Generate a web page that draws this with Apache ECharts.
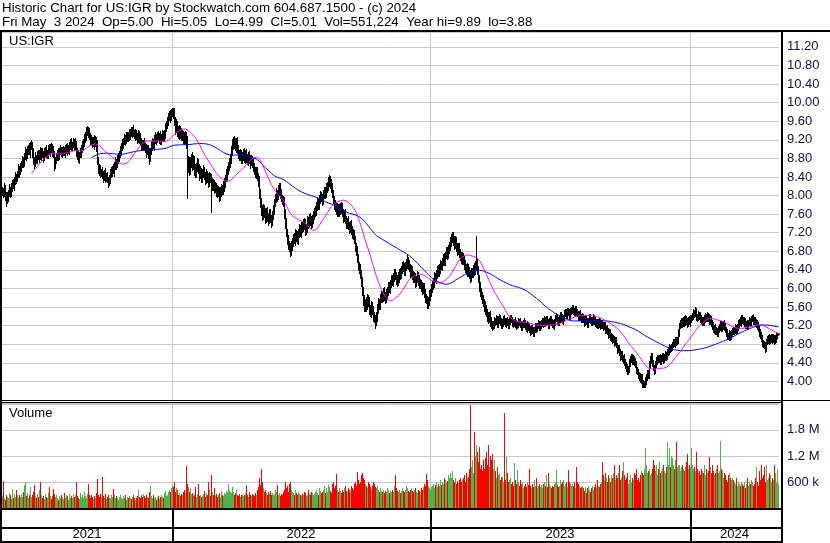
<!DOCTYPE html>
<html>
<head>
<meta charset="utf-8">
<script src="https://cdn.jsdelivr.net/npm/echarts@6/dist/echarts.min.js"></script>
<style>
  html, body { margin: 0; padding: 0; background: #fff; }
  #chart { width: 830px; height: 543px; }
</style>
</head>
<body>
<div id="chart"></div>
<script>
// ---- Daily closing prices (US:IGR), one value per trading session ----
const closes = [
  // 2021
  8.10,8.05,8.15,8.02,7.92,7.98,8.05,8.12,8.08,8.18,
  8.25,8.22,8.33,8.40,8.38,8.48,8.55,8.52,8.62,8.68,
  8.75,8.72,8.85,8.92,8.88,8.98,9.02,8.95,9.08,9.10,
  8.92,8.75,8.70,8.82,8.78,8.88,8.85,8.92,8.86,8.95,
  8.90,8.84,8.93,8.97,8.88,8.92,9.00,8.95,9.05,9.02,
  8.96,8.90,8.68,8.75,8.85,8.92,8.88,8.95,8.98,8.92,
  8.96,9.00,8.94,8.98,9.03,8.97,9.02,9.08,9.12,9.06,
  9.10,9.14,9.08,9.12,8.95,8.85,8.80,8.88,8.92,9.00,
  9.08,9.15,9.22,9.30,9.38,9.42,9.35,9.28,9.22,9.18,
  9.15,9.20,9.12,9.18,9.05,8.75,8.60,8.55,8.48,8.52,
  8.45,8.40,8.48,8.38,8.42,8.35,8.30,8.36,8.45,8.52,
  8.58,8.55,8.65,8.72,8.68,8.78,8.85,8.90,8.96,9.05,
  9.12,9.18,9.22,9.20,9.26,9.30,9.25,9.32,9.38,9.35,
  9.40,9.36,9.30,9.34,9.28,9.22,9.30,9.25,9.18,9.10,
  9.05,9.12,9.08,9.00,8.95,9.02,8.90,8.82,8.95,9.08,
  9.15,9.10,9.20,9.26,9.22,9.30,9.25,9.28,9.20,9.24,
  9.32,9.28,9.35,9.45,9.52,9.60,9.68,9.75,9.70,9.80,
  // 2022
  9.85,9.78,9.60,9.45,9.52,9.38,9.30,9.42,9.35,9.28,
  9.32,9.25,9.20,9.30,9.15,8.60,8.75,8.55,8.70,8.82,
  8.65,8.78,8.55,8.48,8.62,8.70,8.58,8.45,8.52,8.40,
  8.48,8.55,8.42,8.35,8.45,8.38,8.30,8.42,8.36,8.20,
  8.28,8.22,8.15,8.20,8.10,8.05,8.12,8.00,8.08,8.15,
  8.12,8.20,8.28,8.38,8.45,8.55,8.62,8.72,8.80,8.95,
  9.10,9.20,9.12,9.05,9.15,9.00,8.92,8.85,8.90,8.80,
  8.85,8.92,8.80,8.88,8.82,8.75,8.85,8.80,8.72,8.78,
  8.70,8.62,8.55,8.48,8.52,8.40,8.30,8.05,7.85,7.70,
  7.58,7.72,7.62,7.50,7.65,7.55,7.48,7.62,7.52,7.45,
  7.58,7.70,7.85,7.95,8.05,8.00,8.10,8.18,8.05,7.95,
  7.90,7.85,7.62,7.40,7.20,7.05,6.95,6.88,6.82,6.92,
  7.00,7.10,7.05,7.18,7.12,7.05,7.20,7.28,7.22,7.35,
  7.30,7.42,7.38,7.25,7.32,7.45,7.40,7.52,7.48,7.40,
  7.50,7.58,7.62,7.70,7.78,7.85,7.80,7.92,8.00,7.95,
  7.90,8.02,8.10,8.05,8.15,8.22,8.30,8.35,8.25,8.18,
  8.05,7.90,7.82,7.75,7.68,7.72,7.65,7.70,7.78,7.72,
  7.62,7.55,7.60,7.48,7.40,7.45,7.35,7.30,7.38,7.25,
  7.20,7.15,7.05,6.90,6.80,6.65,6.50,6.42,6.30,6.15,
  5.95,5.75,5.60,5.70,5.62,5.80,5.72,5.55,5.48,5.62,
  5.55,5.40,5.35,5.30,5.42,5.55,5.70,5.65,5.78,5.85,
  5.80,5.92,5.85,5.78,5.90,5.95,6.05,6.00,6.12,6.20,
  6.15,6.25,6.32,6.28,6.20,6.15,6.25,6.35,6.30,6.42,
  6.50,6.45,6.38,6.48,6.55,6.60,6.52,6.45,6.35,6.40,
  6.30,6.22,6.25,6.15,6.20,6.28,6.18,6.10,6.12,6.05,
  5.98,6.02,5.92,5.80,5.75,5.68,5.72,5.85,5.92,6.00,
  // 2023
  6.08,6.15,6.25,6.20,6.32,6.40,6.35,6.45,6.52,6.48,
  6.58,6.65,6.60,6.72,6.80,6.75,6.85,6.92,7.00,7.08,
  7.12,7.05,6.95,7.02,6.90,6.82,6.88,6.78,6.70,6.62,
  6.70,6.60,6.52,6.45,6.38,6.45,6.35,6.30,6.25,6.32,
  6.35,6.42,6.38,6.50,6.55,6.40,6.22,6.05,5.92,5.85,
  5.78,5.70,5.62,5.55,5.48,5.40,5.35,5.42,5.30,5.25,
  5.18,5.22,5.30,5.28,5.35,5.25,5.32,5.38,5.30,5.22,
  5.28,5.35,5.30,5.25,5.32,5.28,5.22,5.30,5.36,5.33,
  5.28,5.24,5.30,5.26,5.20,5.25,5.30,5.28,5.22,5.18,
  5.22,5.28,5.25,5.20,5.15,5.22,5.18,5.12,5.08,5.15,
  5.10,5.05,5.12,5.18,5.15,5.20,5.25,5.18,5.22,5.28,
  5.30,5.25,5.32,5.28,5.35,5.30,5.22,5.28,5.34,5.30,
  5.25,5.20,5.28,5.35,5.40,5.32,5.28,5.36,5.42,5.38,
  5.32,5.38,5.45,5.50,5.44,5.52,5.48,5.42,5.50,5.55,
  5.58,5.52,5.48,5.55,5.50,5.45,5.40,5.46,5.38,5.35,
  5.40,5.32,5.28,5.35,5.30,5.25,5.32,5.38,5.34,5.28,
  5.32,5.38,5.30,5.25,5.28,5.22,5.30,5.26,5.20,5.25,
  5.22,5.18,5.20,5.12,5.15,5.08,5.02,5.05,4.95,4.98,
  4.90,4.92,4.85,4.88,4.78,4.70,4.72,4.62,4.55,4.58,
  4.48,4.52,4.42,4.35,4.30,4.22,4.28,4.40,4.48,4.52,
  4.45,4.50,4.42,4.38,4.25,4.20,4.15,4.10,4.05,4.08,
  3.98,3.92,3.95,4.02,4.10,4.18,4.15,4.35,4.48,4.55,
  4.40,4.30,4.25,4.35,4.45,4.50,4.48,4.52,4.45,4.50,
  4.55,4.48,4.52,4.58,4.55,4.62,4.68,4.72,4.70,4.75,
  4.80,4.85,4.82,4.88,4.85,4.90,5.05,5.20,5.25,5.30,
  5.25,5.32,5.28,5.35,5.30,5.26,5.32,5.28,5.35,5.38,
  // 2024
  5.42,5.48,5.45,5.52,5.40,5.38,5.45,5.42,5.35,5.30,
  5.32,5.28,5.35,5.40,5.36,5.42,5.38,5.30,5.35,5.28,
  5.20,5.12,5.15,5.08,5.10,5.05,5.12,5.18,5.22,5.15,
  5.20,5.25,5.18,5.12,5.05,5.00,4.98,5.02,4.96,5.05,
  5.10,5.08,5.12,5.15,5.10,5.18,5.25,5.30,5.28,5.35,
  5.32,5.28,5.30,5.22,5.25,5.20,5.26,5.30,5.28,5.35,
  5.38,5.32,5.30,5.25,5.28,5.20,5.15,5.05,5.00,4.92,
  4.85,4.80,4.78,4.72,4.85,4.90,4.95,4.88,4.92,4.95,
  4.90,4.95,4.88,4.92,4.98,5.00,5.01
];

// Cents the session traded above the span of prior close and close
const wickHi = [
  // 2021
  9,6,11,7,6,10,8,12,6,9, 8,11,6,10,7,5,12,8,9,6, 10,7,6,12,8,9,6,11,7,9, 6,10,8,11,5,7,9,6,12,8,
  7,6,10,8,11,6,8,12,6,9, 8,11,6,9,7,6,10,8,11,6, 9,7,5,11,8,10,6,7,9,12, 6,9,8,11,6,7,12,6,10,8,
  9,7,11,6,10,8,6,11,7,9, 8,6,10,11,7,14,9,8,11,6, 10,8,6,11,7,9,6,8,12,9, 6,9,8,11,6,10,7,6,11,8,
  9,6,11,8,10,6,7,12,6,9, 8,11,6,10,7,6,11,8,9,6, 9,8,11,6,10,7,6,12,8,9, 8,6,10,11,6,7,9,6,12,8,
  9,8,6,11,8,9,10,8,9,7,
  // 2022
  4,4,10,9,12,8,11,9,7,10, 9,8,11,9,7,13,10,9,12,8, 11,9,7,12,9,10,8,9,11,7, 9,11,7,9,12,8,10,9,7,11,
  9,7,11,9,8,12,9,7,10,9, 8,11,9,7,12,9,10,8,9,11, 11,7,9,12,8,10,9,7,11,9, 9,8,11,9,12,7,9,10,8,9,
  8,11,9,7,10,9,8,12,9,10, 10,9,7,12,9,11,8,9,10,7, 9,10,8,9,11,7,12,9,8,10, 7,9,11,8,12,9,10,8,9,11,
  9,8,10,9,7,12,9,11,8,9, 10,8,9,12,7,11,9,8,10,9, 8,9,11,7,9,12,8,10,9,7, 9,11,8,9,12,7,10,9,8,11,
  9,7,10,9,8,11,9,12,7,9, 11,9,8,10,9,7,12,9,8,10, 9,8,10,9,7,11,9,8,10,9, 10,9,12,8,11,9,7,10,9,12,
  9,7,10,9,8,11,9,7,10,9, 8,9,11,7,9,8,10,9,7,9, 9,8,10,9,7,9,11,8,9,7, 7,10,9,8,9,11,7,9,8,10,
  9,8,10,9,7,9,8,11,9,7, 8,9,10,7,9,8,9,11,7,9,
  // 2023
  9,8,10,9,7,9,11,8,9,7, 8,9,11,7,9,10,8,9,11,9, 10,9,7,11,9,8,9,10,7,9, 9,7,10,9,8,9,7,11,9,12,
  10,9,12,9,57,10,9,8,10,9, 8,9,7,10,9,8,9,7,9,8, 6,7,9,6,7,5,8,7,6,7, 7,6,8,7,5,7,6,8,7,6,
  6,7,5,8,7,6,7,5,8,7, 7,5,8,7,6,7,5,8,7,6, 6,7,5,8,7,6,7,5,8,5, 7,6,8,7,5,6,5,8,7,6,
  5,7,6,8,7,5,7,6,8,7, 7,6,8,5,6,7,5,8,7,6, 6,7,5,8,7,6,7,5,8,7, 7,5,8,7,6,7,5,8,7,5,
  6,7,5,8,7,6,5,6,8,7, 7,6,8,7,5,7,6,8,7,6, 5,7,6,8,7,5,7,6,8,7, 7,5,8,7,6,7,5,8,7,6,
  6,7,5,8,7,6,7,5,8,7, 7,5,6,7,5,7,6,8,7,6, 6,7,5,8,7,6,7,5,8,7, 7,6,8,7,5,7,6,8,7,6,
  5,7,6,8,7,5,7,6,8,7, 7,6,8,7,5,7,6,8,7,6,
  // 2024
  6,7,5,8,7,6,7,5,8,7, 7,6,8,7,5,7,6,8,7,6, 5,7,6,8,7,5,7,6,8,7, 7,5,8,7,6,7,5,8,7,6,
  6,7,5,8,7,6,7,5,8,7, 7,6,8,7,5,7,6,8,7,6, 5,7,6,8,7,5,7,6,8,7, 7,5,8,7,6,7,5,8,7,6,
  6,7,5,8,7,5,4
];

// Cents the session traded below the span of prior close and close
const wickLo = [
  // 2021
  8,9,6,11,14,7,10,6,11,8, 9,6,11,8,10,6,7,11,6,9, 6,10,8,6,11,7,9,6,12,8, 10,8,11,6,9,8,6,12,7,9,
  6,11,8,10,6,7,11,6,9,8, 11,8,12,9,6,8,11,9,6,7, 8,9,6,11,7,10,6,12,8,9, 9,6,11,8,10,6,7,11,6,10,
  6,10,8,6,11,7,9,6,12,8, 10,8,11,6,9,8,11,10,7,6, 8,11,6,9,7,6,11,8,10,6, 9,6,12,8,10,6,7,11,6,9,
  6,10,8,11,6,9,8,6,11,7, 10,8,6,11,7,9,6,12,8,9, 8,6,10,7,11,6,9,14,7,6, 9,8,11,6,10,7,6,11,8,9,
  6,10,8,11,6,7,9,6,11,8,
  // 2022
  9,11,8,12,9,10,7,9,11,8, 8,11,9,7,12,65,9,10,8,9, 9,7,11,9,8,10,9,12,7,11, 11,9,7,10,9,8,12,9,7,55,
  7,11,9,8,10,9,7,12,9,10, 9,8,10,9,7,11,9,8,10,9, 8,10,9,7,11,9,12,8,9,10, 10,9,7,11,9,8,10,9,12,7,
  9,10,8,9,11,7,9,10,9,11, 11,8,9,10,7,9,11,8,9,12, 8,9,10,7,9,11,8,9,10,7, 9,8,11,9,7,10,9,8,12,9,
  10,9,8,11,9,7,10,9,8,11, 9,7,11,9,8,10,9,7,11,9, 8,10,9,7,11,9,8,10,9,7, 10,9,8,11,9,7,10,9,8,11,
  9,8,10,9,7,11,9,8,10,9, 7,11,9,8,10,9,7,11,9,8, 11,9,8,10,9,7,11,9,8,10, 9,10,8,9,11,7,9,10,8,9,
  10,9,7,15,9,11,8,9,10,8, 9,8,10,9,7,11,9,8,10,9, 8,10,9,7,11,9,8,10,9,7, 9,7,10,9,8,11,9,7,10,9,
  10,9,8,11,9,7,10,9,8,11, 9,8,10,9,7,11,9,8,10,9,
  // 2023
  8,9,11,7,9,10,8,9,11,7, 9,8,10,9,7,11,9,8,10,9, 7,11,9,8,10,9,7,11,9,8, 9,8,10,9,7,11,9,8,10,9,
  8,10,9,7,11,9,8,10,9,7, 9,8,10,9,7,11,9,8,10,9, 7,6,8,7,5,8,7,6,8,7, 6,8,7,5,8,7,6,8,7,5,
  8,7,5,8,7,6,8,7,5,8, 7,5,8,7,6,8,7,5,8,7, 5,8,7,6,8,7,5,8,7,6, 8,7,5,8,7,6,8,7,5,8,
  7,6,8,7,5,8,7,6,8,7, 6,8,7,5,8,7,6,8,7,5, 8,7,6,8,7,5,8,7,6,8, 7,5,8,7,6,8,7,5,8,7,
  6,8,7,5,8,7,6,8,7,5, 8,7,5,8,7,6,8,7,5,8, 7,6,8,7,5,8,7,6,8,7, 5,8,7,6,8,7,5,8,7,6,
  8,7,6,8,7,5,8,7,6,8, 9,4,4,7,8,6,8,7,5,8, 7,6,8,7,5,8,7,6,8,7, 6,8,7,5,8,7,6,8,7,5,
  8,7,6,8,7,5,8,7,6,8, 7,5,8,7,6,8,7,5,8,7,
  // 2024
  6,8,7,5,8,7,6,8,7,5, 8,7,6,8,7,5,8,7,6,8, 7,5,8,7,6,8,7,5,8,7, 6,8,7,5,8,7,6,8,7,5,
  8,7,6,8,7,5,8,7,6,8, 7,5,8,7,6,8,7,5,8,7, 6,8,7,5,8,7,6,8,7,5, 8,7,6,8,7,5,8,7,6,8,
  7,5,8,6,7,5,1
];

// Daily volume, thousands of shares
const volumes = [
  // 2021
  280,620,240,180,310,260,220,350,290,200, 440,230,320,260,410,290,240,300,260,330,
  250,380,530,600,280,350,240,300,480,260, 300,360,540,280,220,330,260,410,590,300,
  240,280,200,320,260,230,350,480,280,210, 270,440,320,250,300,220,180,280,240,310,
  260,200,350,230,300,270,190,320,240,280, 220,330,260,310,590,280,240,200,350,260,
  300,240,380,270,220,330,550,290,240,310, 260,200,280,240,350,670,300,260,320,250,
  710,280,240,330,200,260,300,240,220,290, 260,430,300,240,280,220,190,260,310,240,
  200,270,230,300,180,250,220,280,240,200, 260,300,220,190,240,280,420,260,230,300,
  250,330,280,220,300,260,240,380,500,280, 240,300,220,260,180,230,280,200,250,310,
  260,220,340,390,280,300,360,420,380,450,
  // 2022
  520,480,600,380,450,420,300,350,280,330, 300,380,420,350,970,560,480,380,450,320,
  350,280,300,480,260,330,550,280,300,250, 280,320,400,260,350,300,600,420,280,760,
  380,300,450,280,330,250,300,350,260,400, 300,280,350,320,400,380,560,420,380,350,
  480,380,300,350,420,300,280,330,260,300, 320,280,300,350,520,300,260,380,300,280,
  330,300,280,350,300,420,480,690,520,900, 600,450,380,420,350,300,380,330,400,300,
  350,300,330,420,380,530,300,350,280,320, 300,380,420,600,450,500,380,550,600,420,
  380,350,300,420,350,300,380,330,300,280, 330,300,380,350,280,300,420,330,300,380,
  350,300,330,380,420,350,300,450,400,350, 380,420,500,350,450,380,520,480,400,350,
  550,600,450,500,780,420,380,450,400,350, 420,380,450,500,400,380,450,420,380,500,
  450,420,550,600,500,820,650,550,600,750, 800,700,650,550,500,450,600,550,480,420,
  500,600,550,480,450,500,420,380,450,400, 380,420,350,400,380,450,420,350,400,380,
  420,380,500,750,450,400,380,420,350,400, 450,400,380,420,500,450,400,380,420,450,
  400,380,420,450,380,350,420,400,380,450, 420,480,550,500,780,650,500,450,420,480,
  // 2023
  500,550,450,520,600,480,550,500,650,520, 600,550,700,650,580,620,750,680,800,700,
  850,650,600,700,550,620,580,650,700,600, 650,700,750,600,800,680,720,900,2380,950,
  1100,800,1750,1200,1450,1300,1050,1400,900,1000, 850,1100,900,1150,1300,1000,1450,950,1200,1100,
  1250,900,1100,850,700,950,750,800,650,710, 710,600,2180,650,1170,800,600,650,700,550,
  600,500,1030,650,550,870,600,500,650,550, 600,450,500,550,480,600,520,900,500,450,
  550,480,650,500,700,450,500,550,480,520, 450,550,600,500,750,480,800,550,500,450,
  500,480,550,600,870,520,480,500,650,550, 600,650,500,550,600,480,880,600,550,500,
  550,500,600,450,950,600,550,500,450,480, 500,450,400,480,350,450,500,420,380,450,
  500,420,480,550,450,650,500,480,550,600, 1060,750,650,800,700,600,750,680,600,750,
  700,800,980,650,750,700,800,980,650,700, 850,1060,750,650,700,800,550,650,750,600,
  700,650,800,750,900,650,700,600,750,850, 800,750,900,1380,1000,800,850,900,750,800,
  900,1100,1000,850,1000,750,900,1050,800,850, 900,1000,850,800,950,1520,1000,1380,950,1200,
  1150,1000,900,1100,1520,950,1000,1000,850,950, 1000,900,850,950,1050,1250,900,1000,950,1380,
  // 2024
  1000,900,950,850,1280,900,800,850,750,900, 850,800,1000,750,900,800,850,1170,950,800,
  1000,850,750,800,900,1000,800,850,1540,900, 850,700,800,750,650,600,750,800,700,650,
  700,650,600,550,700,500,600,550,500,600, 550,500,600,450,550,700,500,600,550,650,
  600,500,550,700,950,600,500,850,650,1000, 700,750,950,600,1000,650,700,800,750,600,
  700,650,980,800,600,900,551.224
];

// Calendar bands along the bottom
const yearLabels = ['2021', '2022', '2023', '2024'];
const yearStarts = [0, 170, 428, 688];

// Moving-average windows (sessions)
const maFast = 30;
const maSlow = 90;

// ---- Derived series ----
const N = closes.length;
const r2 = v => Math.round(v * 100) / 100;
const highs = closes.map((c, i) => r2(Math.max(i ? closes[i - 1] : c, c) + wickHi[i] / 100));
const lows  = closes.map((c, i) => r2(Math.min(i ? closes[i - 1] : c, c) - wickLo[i] / 100));

function movingAverage(values, n) {
  const out = [];
  let sum = 0;
  for (let i = 0; i < values.length; i++) {
    sum += values[i];
    if (i >= n) sum -= values[i - n];
    if (i >= n - 1) out.push([i, sum / n]);
  }
  return out;
}

const last = N - 1;
const f2 = v => v.toFixed(2);
const headLine1 = 'Historic Chart for US:IGR by Stockwatch.com 604.687.1500 - (c) 2024';
const headLine2 = 'Fri May  3 2024  Op=' + f2(closes[last - 1]) +
  '  Hi=' + f2(highs[last]) + '  Lo=' + f2(lows[last]) + '  Cl=' + f2(closes[last]) +
  '  Vol=' + Math.round(volumes[last] * 1000).toLocaleString('en-US') +
  '  Year hi=' + f2(Math.max(...highs)) + '  lo=' + f2(Math.min(...lows));

const FONT = '"Liberation Sans", Arial, sans-serif';
const LABEL_COLOR = '#10104a';
const GRID_GRAY = '#c8c8c8';
const UP_GREEN = '#4db34d';
const DOWN_RED = '#ff0000';
const FLAT_GRAY = '#a8a8a8';

const chart = echarts.init(document.getElementById('chart'), null, { renderer: 'canvas' });

const xCommon = { type: 'value', min: -0.5, max: N - 0.5, show: false };

// vertical year gridlines inside a panel
function yearGridSeries(idx) {
  return {
    type: 'custom', xAxisIndex: idx, yAxisIndex: idx, silent: true, z: 1,
    data: yearStarts.slice(1).map(s => [s - 0.5, 0]),
    renderItem(params, api) {
      const cs = params.coordSys;
      const x = Math.round(api.coord([api.value(0), 0])[0]) + 0.5;
      return { type: 'line', shape: { x1: x, y1: cs.y, x2: x, y2: cs.y + cs.height },
               style: { stroke: GRID_GRAY, lineWidth: 1 } };
    }
  };
}

const option = {
  animation: false,
  backgroundColor: '#ffffff',
  grid: [
    { left: 2, top: 32, width: 777, height: 368, outerBoundsMode: 'none' },
    { left: 2, top: 403, width: 777, height: 105, outerBoundsMode: 'none' },
    { left: 2, top: 510, width: 777, height: 31, outerBoundsMode: 'none' }
  ],
  xAxis: [
    Object.assign({ gridIndex: 0 }, xCommon),
    Object.assign({ gridIndex: 1 }, xCommon),
    Object.assign({ gridIndex: 2 }, xCommon)
  ],
  yAxis: [
    {
      gridIndex: 0, type: 'value', position: 'right', min: 3.6, max: 11.52, interval: 0.4,
      axisLine: { show: false }, axisTick: { show: false },
      axisLabel: {
        margin: 8, fontSize: 13, fontFamily: FONT, color: LABEL_COLOR,
        showMinLabel: true, showMaxLabel: false, hideOverlap: false,
        formatter: v => (v < 3.8 || v > 11.3) ? '' : v.toFixed(2)
      },
      splitLine: { show: true, lineStyle: { color: GRID_GRAY, width: 1 } }
    },
    {
      gridIndex: 1, type: 'value', position: 'right', min: 0, max: 2420000, interval: 600000,
      axisLine: { show: false }, axisTick: { show: false },
      axisLabel: {
        margin: 8, fontSize: 13, fontFamily: FONT, color: LABEL_COLOR,
        showMaxLabel: false, hideOverlap: false,
        formatter: v => {
          if (v <= 0 || v > 2000000) return '';
          return v >= 1000000 ? (v / 1000000).toFixed(1) + ' M' : Math.round(v / 1000) + ' k';
        }
      },
      splitLine: { show: true, lineStyle: { color: GRID_GRAY, width: 1 } }
    },
    { gridIndex: 2, type: 'value', min: 0, max: 1, show: false }
  ],
  series: [
    yearGridSeries(0),
    yearGridSeries(1),
    // daily high-low bars with close tick
    {
      type: 'custom', xAxisIndex: 0, yAxisIndex: 0, silent: true, z: 2, progressive: 0,
      data: closes.map((c, i) => [i, highs[i], lows[i], c]),
      encode: { x: 0, y: [1, 2, 3] },
      renderItem(params, api) {
        const i = api.value(0);
        const pH = api.coord([i, api.value(1)]);
        const pL = api.coord([i, api.value(2)]);
        const pC = api.coord([i, api.value(3)]);
        const px = Math.floor(pH[0]);
        const yT = Math.round(pH[1]);
        const yB = Math.round(pL[1]);
        return {
          type: 'group',
          children: [
            { type: 'rect', shape: { x: px, y: yT, width: 1, height: Math.max(1, yB - yT + 1) },
              style: { fill: '#000000' } },
            { type: 'rect', shape: { x: px + 1, y: Math.round(pC[1]) - 1, width: 1, height: 2 },
              style: { fill: DOWN_RED } }
          ]
        };
      }
    },
    {
      type: 'line', xAxisIndex: 0, yAxisIndex: 0, silent: true, z: 3,
      data: movingAverage(closes, maSlow), showSymbol: false, symbol: 'none',
      lineStyle: { color: '#0000ff', width: 1 }
    },
    {
      type: 'line', xAxisIndex: 0, yAxisIndex: 0, silent: true, z: 4,
      data: movingAverage(closes, maFast), showSymbol: false, symbol: 'none',
      lineStyle: { color: '#ff00ff', width: 1 }
    },
    // volume bars coloured by the day's close change
    {
      type: 'custom', xAxisIndex: 1, yAxisIndex: 1, silent: true, z: 2, progressive: 0,
      data: volumes.map((v, i) => [i, v * 1000]),
      encode: { x: 0, y: 1 },
      renderItem(params, api) {
        const i = api.value(0);
        const top = api.coord([i, api.value(1)]);
        const base = api.coord([i, 0]);
        const px = Math.floor(top[0]);
        const yT = Math.round(top[1]);
        const yB = Math.round(base[1]);
        const diff = i ? r2(closes[i] - closes[i - 1]) : 1;
        const color = diff > 0 ? UP_GREEN : diff < 0 ? DOWN_RED : FLAT_GRAY;
        return { type: 'rect', shape: { x: px, y: yT, width: 1, height: Math.max(1, yB - yT) },
                 style: { fill: color } };
      }
    },
    // year bands: labels and black separators
    {
      type: 'custom', xAxisIndex: 2, yAxisIndex: 2, silent: true, z: 5,
      data: yearStarts.map((s, k) => [s, k + 1 < yearStarts.length ? yearStarts[k + 1] : N]),
      encode: { x: [0, 1] },
      renderItem(params, api) {
        const s = api.value(0), e = api.value(1);
        const cs = params.coordSys;
        const mid = api.coord([(s + e - 1) / 2, 0.21]);
        const children = [{
          type: 'text', x: mid[0], y: mid[1],
          style: { text: yearLabels[params.dataIndex], font: '13px ' + FONT, fill: '#000000',
                   align: 'center', verticalAlign: 'middle',
                   textAlign: 'center', textVerticalAlign: 'middle' }
        }];
        if (s > 0) {
          const sx = Math.round(api.coord([s - 0.5, 0])[0]);
          children.push({ type: 'rect', shape: { x: sx, y: cs.y, width: 2, height: cs.height },
                          style: { fill: '#000000' } });
        }
        return { type: 'group', children };
      }
    }
  ],
  graphic: {
    elements: [
      { type: 'text', x: 2, y: 8.5, z: 100,
        style: { text: headLine1, font: '13.33px ' + FONT, fill: '#000000',
                 verticalAlign: 'middle', textVerticalAlign: 'middle' } },
      { type: 'text', x: 2, y: 22.5, z: 100,
        style: { text: headLine2, font: '13.33px ' + FONT, fill: '#000000',
                 verticalAlign: 'middle', textVerticalAlign: 'middle' } },
      { type: 'text', x: 9, y: 41.5, z: 100,
        style: { text: 'US:IGR', font: '13px ' + FONT, fill: '#000000',
                 verticalAlign: 'middle', textVerticalAlign: 'middle' } },
      { type: 'text', x: 9, y: 413, z: 100,
        style: { text: 'Volume', font: '13px ' + FONT, fill: '#000000',
                 verticalAlign: 'middle', textVerticalAlign: 'middle' } },
      // frame
      { type: 'rect', z: 100, shape: { x: 0, y: 30, width: 830, height: 2 }, style: { fill: '#000' } },
      { type: 'rect', z: 100, shape: { x: 0, y: 30, width: 2, height: 513 }, style: { fill: '#000' } },
      { type: 'rect', z: 100, shape: { x: 781, y: 30, width: 2, height: 513 }, style: { fill: '#000' } },
      { type: 'rect', z: 100, shape: { x: 0, y: 400, width: 830, height: 1 }, style: { fill: '#000' } },
      { type: 'rect', z: 100, shape: { x: 0, y: 402, width: 781, height: 1 }, style: { fill: '#000' } },
      { type: 'rect', z: 100, shape: { x: 0, y: 508, width: 781, height: 2 }, style: { fill: '#000' } },
      { type: 'rect', z: 100, shape: { x: 0, y: 527, width: 781, height: 2 }, style: { fill: '#000' } },
      { type: 'rect', z: 100, shape: { x: 0, y: 541, width: 783, height: 2 }, style: { fill: '#000' } }
    ]
  }
};

chart.setOption(option);
</script>
</body>
</html>
